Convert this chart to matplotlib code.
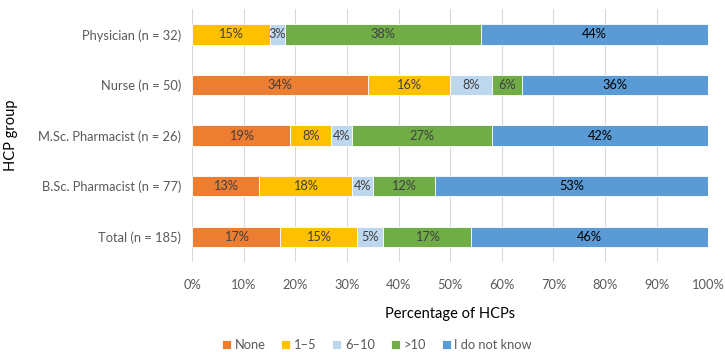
import matplotlib
matplotlib.use("Agg")
import matplotlib.pyplot as plt
import numpy as np

plt.rcParams['font.family'] = ['Lato', 'DejaVu Sans']

categories = ["Total (n = 185)", "B.Sc. Pharmacist (n = 77)", "M.Sc. Pharmacist (n = 26)",
              "Nurse (n = 50)", "Physician (n = 32)"]
series_names = ["None", "1\u20135", "6\u201310", ">10", "I do not know"]
none_vals = [17, 13, 19, 34, 0]
one_five = [15, 18, 8, 16, 15]
six_ten = [5, 4, 4, 8, 3]
over_ten = [17, 12, 27, 6, 38]
dont_know = [46, 53, 42, 36, 44]
colors = ["#ED7D31", "#FFC000", "#BDD7EE", "#70AD47", "#5B9BD5"]
label_colors = ["#404040", "#404040", "#404040", "#404040", "#000000"]

data = [none_vals, one_five, six_ten, over_ten, dont_know]

fig = plt.figure(figsize=(7.25, 3.52), dpi=100)
ax = fig.add_axes([0.265, 0.256, 0.712, 0.718])

y = np.arange(len(categories))
left = np.zeros(len(categories))
for vals, name, c, lc in zip(data, series_names, colors, label_colors):
    vals = np.array(vals, dtype=float)
    ax.barh(y, vals, left=left, height=0.4, color=c, label=name,
            edgecolor="white", linewidth=0.6, zorder=3)
    for yi, v, l in zip(y, vals, left):
        if v > 0:
            ax.text(l + v / 2, yi, f"{int(v)}%", ha="center", va="center",
                    fontsize=9.2, color=lc, zorder=4)
    left += vals

ax.set_xlim(0, 100)
ax.set_ylim(-0.5, 4.5)
ax.set_xticks(np.arange(0, 101, 10))
ax.set_xticklabels([f"{t}%" for t in range(0, 101, 10)])
ax.set_yticks(y)
ax.set_yticklabels(categories)
ax.tick_params(axis="both", length=0, labelsize=9.3, colors="#595959")
ax.tick_params(axis="x", pad=12)
ax.tick_params(axis="y", pad=8)
ax.grid(axis="x", color="#D9D9D9", linewidth=0.8, zorder=0)
for s in ax.spines.values():
    s.set_visible(False)

ax.set_xlabel("Percentage of HCPs", fontsize=10.5, color="#000000", labelpad=12)
ax.set_ylabel("HCP group", fontsize=10.5, color="#000000")
ax.yaxis.set_label_coords(-0.337, 0.5)

handles, labels = ax.get_legend_handles_labels()
fig.legend(handles, labels, loc="center", bbox_to_anchor=(0.52, 0.02), ncol=5,
           frameon=False, fontsize=9.3, handlelength=0.7, handleheight=0.7,
           handletextpad=0.3, columnspacing=1.2, labelcolor="#595959")

fig.savefig("out.png", dpi=100)
